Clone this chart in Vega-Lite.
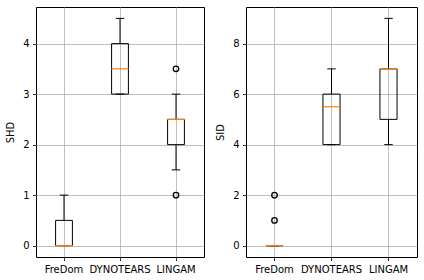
{
  "$schema": "https://vega.github.io/schema/vega-lite/v6.json",
  "padding": {"left": 5, "top": 6, "right": 0, "bottom": 0},
  "autosize": {"type": "pad"},
  "datasets": {
    "boxes": [
      {"metric": "SHD", "method": "FreDom", "lower": 0, "q1": 0, "median": 0, "q3": 0.5, "upper": 1},
      {"metric": "SHD", "method": "DYNOTEARS", "lower": 3, "q1": 3, "median": 3.5, "q3": 4, "upper": 4.5},
      {"metric": "SHD", "method": "LINGAM", "lower": 1.5, "q1": 2, "median": 2.5, "q3": 2.5, "upper": 3},
      {"metric": "SID", "method": "FreDom", "lower": 0, "q1": 0, "median": 0, "q3": 0, "upper": 0},
      {"metric": "SID", "method": "DYNOTEARS", "lower": 4, "q1": 4, "median": 5.5, "q3": 6, "upper": 7},
      {"metric": "SID", "method": "LINGAM", "lower": 4, "q1": 5, "median": 7, "q3": 7, "upper": 9}
    ],
    "outliers": [
      {"metric": "SHD", "method": "LINGAM", "value": 1},
      {"metric": "SHD", "method": "LINGAM", "value": 3.5},
      {"metric": "SID", "method": "FreDom", "value": 1},
      {"metric": "SID", "method": "FreDom", "value": 2}
    ]
  },
  "config": {
    "font": "DejaVu Sans",
    "view": {"stroke": "black", "strokeWidth": 1},
    "tick": {"opacity": 1},
    "point": {"opacity": 1},
    "axis": {
      "labelFont": "DejaVu Sans", "labelFontSize": 10, "labelColor": "black",
      "titleFont": "DejaVu Sans", "titleFontSize": 10, "titleFontWeight": "normal", "titleColor": "black",
      "tickColor": "black", "tickSize": 3.5, "tickWidth": 0.8, "labelPadding": 3.5,
      "domain": false, "grid": true, "gridColor": "#b0b0b0", "gridWidth": 0.8
    }
  },
  "spacing": 10,
  "hconcat": [
    {
      "width": 168, "height": 250,
      "encoding": {
        "x": {"field": "method", "type": "nominal", "sort": ["FreDom", "DYNOTEARS", "LINGAM"],
              "scale": {"type": "band", "paddingInner": 0, "paddingOuter": 0},
              "axis": {"title": null, "labelAngle": 0, "bandPosition": 0.5}}
      },
      "layer": [
        {"data": {"name": "boxes"}, "transform": [{"filter": "datum.metric === 'SHD'"}], "mark": {"type": "rule", "color": "black", "strokeWidth": 1},
         "encoding": {"y": {"field": "lower", "type": "quantitative", "title": "SHD", "scale": {"domain": [-0.225, 4.725], "nice": false, "zero": false}, "axis": {"values": [0, 1, 2, 3, 4], "titlePadding": 7}}, "y2": {"field": "q1"}}},
        {"data": {"name": "boxes"}, "transform": [{"filter": "datum.metric === 'SHD'"}], "mark": {"type": "rule", "color": "black", "strokeWidth": 1},
         "encoding": {"y": {"field": "q3", "type": "quantitative", "title": "SHD"}, "y2": {"field": "upper"}}},
        {"data": {"name": "boxes"}, "transform": [{"filter": "datum.metric === 'SHD'"}], "mark": {"type": "tick", "color": "black", "thickness": 1, "size": 8.5, "opacity": 1},
         "encoding": {"y": {"field": "lower", "type": "quantitative", "title": "SHD"}}},
        {"data": {"name": "boxes"}, "transform": [{"filter": "datum.metric === 'SHD'"}], "mark": {"type": "tick", "color": "black", "thickness": 1, "size": 8.5, "opacity": 1},
         "encoding": {"y": {"field": "upper", "type": "quantitative", "title": "SHD"}}},
        {"data": {"name": "boxes"}, "transform": [{"filter": "datum.metric === 'SHD'"}], "mark": {"type": "bar", "fill": "transparent", "stroke": "black", "strokeWidth": 1, "width": {"band": 0.3}},
         "encoding": {"y": {"field": "q1", "type": "quantitative", "title": "SHD"}, "y2": {"field": "q3"}}},
        {"data": {"name": "boxes"}, "transform": [{"filter": "datum.metric === 'SHD'"}], "mark": {"type": "tick", "color": "#ff7f0e", "thickness": 1.2, "size": 17, "opacity": 1},
         "encoding": {"y": {"field": "median", "type": "quantitative", "title": "SHD"}}},
        {"data": {"name": "outliers"}, "transform": [{"filter": "datum.metric === 'SHD'"}], "mark": {"type": "point", "shape": "circle", "filled": false, "stroke": "black", "strokeWidth": 1.3, "size": 30, "opacity": 1},
         "encoding": {"y": {"field": "value", "type": "quantitative", "title": "SHD"}}}
      ]
    },
    {
      "width": 171, "height": 250,
      "encoding": {
        "x": {"field": "method", "type": "nominal", "sort": ["FreDom", "DYNOTEARS", "LINGAM"],
              "scale": {"type": "band", "paddingInner": 0, "paddingOuter": 0},
              "axis": {"title": null, "labelAngle": 0, "bandPosition": 0.5}}
      },
      "layer": [
        {"data": {"name": "boxes"}, "transform": [{"filter": "datum.metric === 'SID'"}], "mark": {"type": "rule", "color": "black", "strokeWidth": 1},
         "encoding": {"y": {"field": "lower", "type": "quantitative", "title": "SID", "scale": {"domain": [-0.45, 9.45], "nice": false, "zero": false}, "axis": {"values": [0, 2, 4, 6, 8], "titlePadding": 7}}, "y2": {"field": "q1"}}},
        {"data": {"name": "boxes"}, "transform": [{"filter": "datum.metric === 'SID'"}], "mark": {"type": "rule", "color": "black", "strokeWidth": 1},
         "encoding": {"y": {"field": "q3", "type": "quantitative", "title": "SID"}, "y2": {"field": "upper"}}},
        {"data": {"name": "boxes"}, "transform": [{"filter": "datum.metric === 'SID'"}], "mark": {"type": "tick", "color": "black", "thickness": 1, "size": 8.5, "opacity": 1},
         "encoding": {"y": {"field": "lower", "type": "quantitative", "title": "SID"}}},
        {"data": {"name": "boxes"}, "transform": [{"filter": "datum.metric === 'SID'"}], "mark": {"type": "tick", "color": "black", "thickness": 1, "size": 8.5, "opacity": 1},
         "encoding": {"y": {"field": "upper", "type": "quantitative", "title": "SID"}}},
        {"data": {"name": "boxes"}, "transform": [{"filter": "datum.metric === 'SID'"}], "mark": {"type": "bar", "fill": "transparent", "stroke": "black", "strokeWidth": 1, "width": {"band": 0.3}},
         "encoding": {"y": {"field": "q1", "type": "quantitative", "title": "SID"}, "y2": {"field": "q3"}}},
        {"data": {"name": "boxes"}, "transform": [{"filter": "datum.metric === 'SID'"}], "mark": {"type": "tick", "color": "#ff7f0e", "thickness": 1.2, "size": 17, "opacity": 1},
         "encoding": {"y": {"field": "median", "type": "quantitative", "title": "SID"}}},
        {"data": {"name": "outliers"}, "transform": [{"filter": "datum.metric === 'SID'"}], "mark": {"type": "point", "shape": "circle", "filled": false, "stroke": "black", "strokeWidth": 1.3, "size": 30, "opacity": 1},
         "encoding": {"y": {"field": "value", "type": "quantitative", "title": "SID"}}}
      ]
    }
  ]
}
